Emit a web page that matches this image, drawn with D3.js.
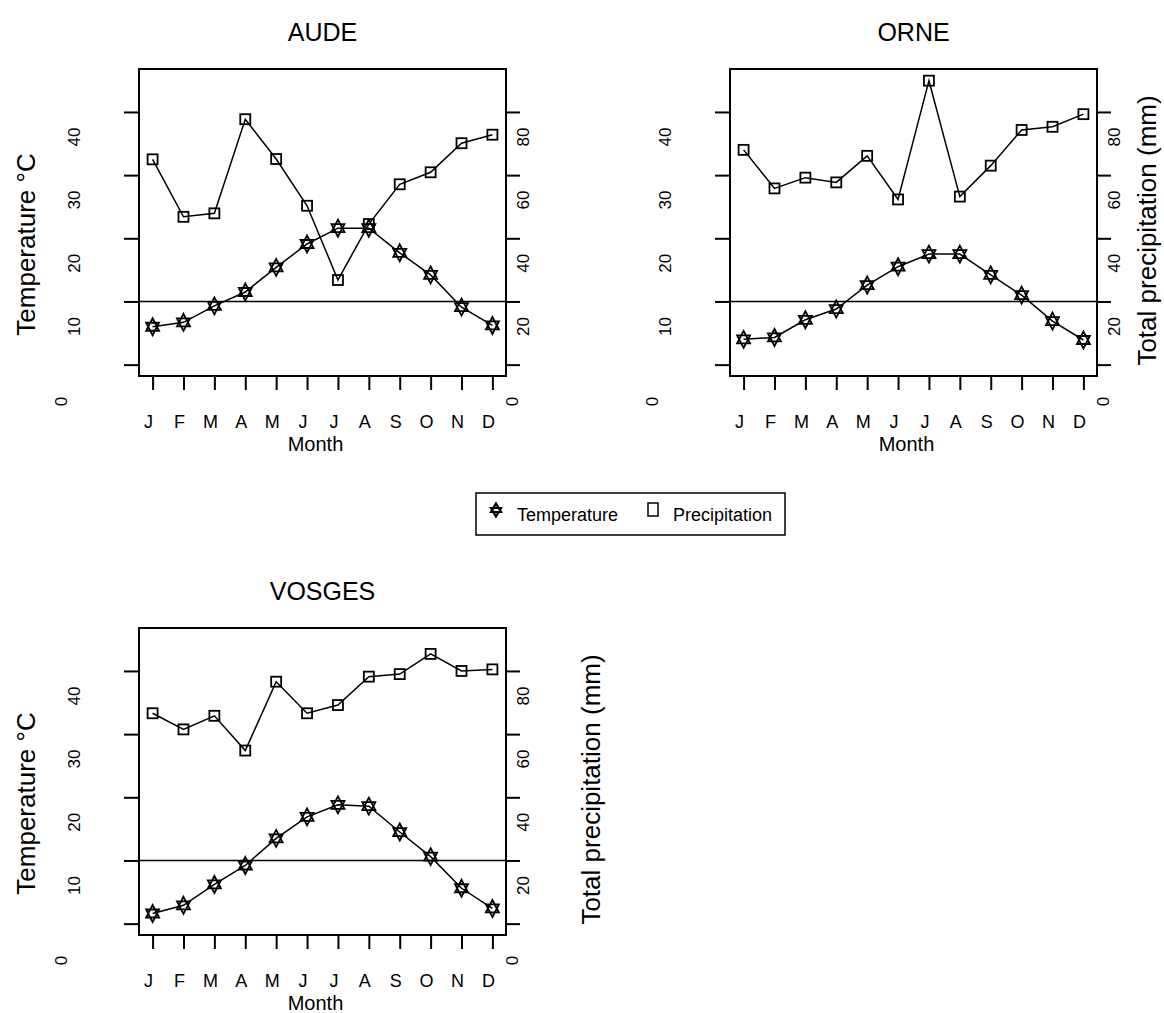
<!DOCTYPE html>
<html>
<head>
<meta charset="utf-8">
<script src="https://cdn.jsdelivr.net/npm/d3@7"></script>
<style>
  body { margin: 0; background: #fff; }
  svg { display: block; font-family: "Liberation Sans", Arial, Helvetica, sans-serif; }
</style>
</head>
<body>
<svg width="1164" height="1013"></svg>
<script>
// month labels
var months = ["J", "F", "M", "A", "M", "J", "J", "A", "S", "O", "N", "D"];

// monthly mean temperature (°C)
var audeTemp = [6.0, 6.7, 9.3, 11.5, 15.4, 19.1, 21.6, 21.6, 17.7, 14.2, 9.1, 6.2];
var orneTemp = [4.0, 4.3, 7.1, 8.8, 12.6, 15.5, 17.5, 17.5, 14.2, 11.0, 6.9, 3.9];
var vosgesTemp = [1.6, 2.9, 6.2, 9.2, 13.5, 16.9, 18.8, 18.6, 14.5, 10.6, 5.6, 2.4];

// monthly total precipitation (mm)
var audePrecip = [65.0, 46.8, 47.9, 77.7, 65.1, 50.3, 26.8, 44.5, 57.1, 60.9, 70.1, 72.8];
var ornePrecip = [68.0, 55.8, 59.2, 57.7, 66.1, 52.3, 89.9, 53.2, 63.0, 74.3, 75.3, 79.3];
var vosgesPrecip = [66.6, 61.5, 65.8, 54.8, 76.6, 66.6, 69.2, 78.2, 79.0, 85.4, 80.0, 80.5];

// axis ticks
var tempTicks = [0, 10, 20, 30, 40];
var precipTicks = [0, 20, 40, 60, 80];
var refTemp = 10;

var svg = d3.select("svg");
svg.append("rect").attr("width", 1164).attr("height", 1013).attr("fill", "#fff");

var W = 367, H = 307;

var panels = [
  { name: "AUDE", temp: audeTemp, precip: audePrecip, left: 139, top: 69, leftTitle: true, rightTitle: false },
  { name: "ORNE", temp: orneTemp, precip: ornePrecip, left: 730, top: 69, leftTitle: false, rightTitle: true, rightDx: 59 },
  { name: "VOSGES", temp: vosgesTemp, precip: vosgesPrecip, left: 139, top: 628, leftTitle: true, rightTitle: true, rightDx: 94 }
];

// star of David (pch 11)
function starPath(cx, cy) {
  var w = 6.5, h = 8.5, b = 4;
  return "M" + cx + "," + (cy - h) + "L" + (cx + w) + "," + (cy + b) + "L" + (cx - w) + "," + (cy + b) + "Z" +
         "M" + cx + "," + (cy + h) + "L" + (cx + w) + "," + (cy - b) + "L" + (cx - w) + "," + (cy - b) + "Z";
}

panels.forEach(function (p) {
  var right = p.left + W, bottom = p.top + H;
  var x = d3.scaleLinear().domain([0.56, 12.44]).range([p.left, right]);
  var yT = d3.scaleLinear().domain([-1.8, 46.8]).range([bottom, p.top]);
  var yP = d3.scaleLinear().domain([-3.6, 93.6]).range([bottom, p.top]);
  var g = svg.append("g");

  // title
  g.append("text")
    .attr("x", (p.left + right) / 2)
    .attr("y", p.top - 28)
    .attr("text-anchor", "middle")
    .style("font-size", "25px")
    .text(p.name);

  // left ticks
  var la = g.append("g")
    .attr("transform", "translate(" + p.left + ",0)")
    .call(d3.axisLeft(yT).tickValues(tempTicks).tickSize(15).tickFormat(""));
  la.select(".domain").remove();
  la.selectAll("line").attr("stroke", "#000").attr("stroke-width", 2);

  // right ticks
  var ra = g.append("g")
    .attr("transform", "translate(" + right + ",0)")
    .call(d3.axisRight(yP).tickValues(precipTicks).tickSize(14).tickFormat(""));
  ra.select(".domain").remove();
  ra.selectAll("line").attr("stroke", "#000").attr("stroke-width", 2);

  // bottom ticks
  var ba = g.append("g")
    .attr("transform", "translate(0," + (bottom + 1) + ")")
    .call(d3.axisBottom(x).tickValues(d3.range(1, 13)).tickSize(13).tickFormat(""));
  ba.select(".domain").remove();
  ba.selectAll("line").attr("stroke", "#000").attr("stroke-width", 2);

  // tick labels (offset from the ticks, as in the original)
  g.selectAll(".tl").data(tempTicks).enter().append("text")
    .attr("transform", function (d) {
      var ty = d === 0 ? yT(d) + 37 : yT(d) + 25;
      var tx = d === 0 ? p.left - 72 : p.left - 59;
      return "translate(" + tx + "," + ty + ") rotate(-90)";
    })
    .attr("text-anchor", "middle")
    .style("font-size", "17px")
    .text(function (d) { return d; });

  g.selectAll(".tr").data(precipTicks).enter().append("text")
    .attr("transform", function (d) {
      var ty = d === 0 ? yP(d) + 37 : yP(d) + 25;
      var tx = d === 0 ? right + 12 : right + 23;
      return "translate(" + tx + "," + ty + ") rotate(-90)";
    })
    .attr("text-anchor", "middle")
    .style("font-size", "17px")
    .text(function (d) { return d; });

  g.selectAll(".mt").data(months).enter().append("text")
    .attr("x", function (d, i) { return x(i + 1) - 4; })
    .attr("y", bottom + 52)
    .attr("text-anchor", "middle")
    .style("font-size", "18px")
    .text(function (d) { return d; });

  g.append("text")
    .attr("x", (p.left + right) / 2 - 7)
    .attr("y", bottom + 75)
    .attr("text-anchor", "middle")
    .style("font-size", "20px")
    .text("Month");

  if (p.leftTitle) {
    g.append("text")
      .attr("transform", "translate(" + (p.left - 104) + "," + ((p.top + bottom) / 2 + 22) + ") rotate(-90)")
      .attr("text-anchor", "middle")
      .style("font-size", "26px")
      .text("Temperature °C");
  }
  if (p.rightTitle) {
    g.append("text")
      .attr("transform", "translate(" + (right + p.rightDx) + "," + ((p.top + bottom) / 2 + 8) + ") rotate(-90)")
      .attr("text-anchor", "middle")
      .style("font-size", "26px")
      .text("Total precipitation (mm)");
  }

  // reference line
  g.append("line")
    .attr("x1", p.left).attr("x2", right)
    .attr("y1", yT(refTemp)).attr("y2", yT(refTemp))
    .attr("stroke", "#000").attr("stroke-width", 1.5);

  var line = function (ys) {
    return d3.line().x(function (d, i) { return x(i + 1); }).y(function (d) { return ys(d); });
  };

  // precipitation
  g.append("path").datum(p.precip)
    .attr("d", line(yP))
    .attr("fill", "none").attr("stroke", "#000").attr("stroke-width", 1.5);
  g.selectAll(".sq").data(p.precip).enter().append("rect")
    .attr("x", function (d, i) { return x(i + 1) - 5; })
    .attr("y", function (d) { return yP(d) - 5; })
    .attr("width", 10).attr("height", 10)
    .attr("fill", "none").attr("stroke", "#000").attr("stroke-width", 1.8);

  // temperature
  g.append("path").datum(p.temp)
    .attr("d", line(yT))
    .attr("fill", "none").attr("stroke", "#000").attr("stroke-width", 1.5);
  g.selectAll(".st").data(p.temp).enter().append("path")
    .attr("d", function (d, i) { return starPath(x(i + 1), yT(d)); })
    .attr("fill", "none").attr("stroke", "#000").attr("stroke-width", 1.8);

  // box
  g.append("rect")
    .attr("x", p.left).attr("y", p.top).attr("width", W).attr("height", H)
    .attr("fill", "none").attr("stroke", "#000").attr("stroke-width", 2);
});

// legend
var lg = svg.append("g");
lg.append("rect")
  .attr("x", 476).attr("y", 493).attr("width", 309).attr("height", 42)
  .attr("fill", "none").attr("stroke", "#000").attr("stroke-width", 1.5);
lg.append("path")
  .attr("d", "M496,503.5L501,512L491,512Z M496,516.5L501,508L491,508Z")
  .attr("fill", "none").attr("stroke", "#000").attr("stroke-width", 2.2);
lg.append("text").attr("x", 517).attr("y", 521).style("font-size", "18px").text("Temperature");
lg.append("rect")
  .attr("x", 648).attr("y", 503).attr("width", 10).attr("height", 13)
  .attr("fill", "none").attr("stroke", "#000").attr("stroke-width", 1.5);
lg.append("text").attr("x", 673).attr("y", 521).style("font-size", "18px").text("Precipitation");
</script>
</body>
</html>
